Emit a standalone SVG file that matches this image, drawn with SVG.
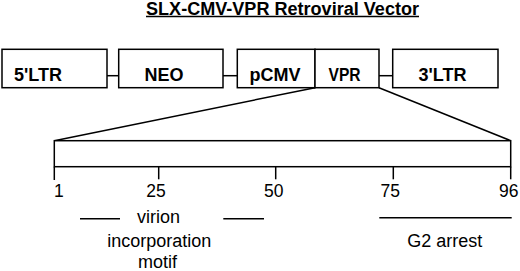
<svg xmlns="http://www.w3.org/2000/svg" width="520" height="271" viewBox="0 0 520 271">
<style>
  .box { fill: #fff; stroke: #000; stroke-width: 1.5; }
  .ln { stroke: #000; stroke-width: 1.5; fill: none; }
  .bl { font-family: "Liberation Sans", Arial, sans-serif; font-weight: bold; font-size: 18px; fill: #000; }
  .tk { font-family: "Liberation Sans", Arial, sans-serif; font-size: 17.5px; fill: #000; }
  .lb { font-family: "Liberation Sans", Arial, sans-serif; font-size: 18px; fill: #000; text-anchor: middle; }
</style>
<rect width="520" height="271" fill="#fff"/>
<g id="title">
  <text x="146" y="14.5" class="bl" font-size="16" textLength="273" lengthAdjust="spacingAndGlyphs">SLX-CMV-VPR Retroviral Vector</text>
  <line x1="146" y1="16.5" x2="419" y2="16.5" class="ln"/>
</g>
<g id="connectors">
  <line x1="107" y1="75.7" x2="118.7" y2="75.7" class="ln"/>
  <line x1="223" y1="75.7" x2="237.3" y2="75.7" class="ln"/>
  <line x1="379" y1="75.7" x2="392.7" y2="75.7" class="ln"/>
  <line x1="315" y1="87.7" x2="54.3" y2="140.7" class="ln"/>
  <line x1="379" y1="87.7" x2="510.7" y2="140.7" class="ln"/>
</g>
<g id="ltr5">
  <rect x="2" y="49.3" width="105" height="38.4" class="box"/>
  <text x="14" y="80.5" class="bl">5'LTR</text>
</g>
<g id="neo">
  <rect x="118.7" y="49.3" width="104.3" height="38.4" class="box"/>
  <text x="144.5" y="80.5" class="bl">NEO</text>
</g>
<g id="pcmv">
  <rect x="237.3" y="49.3" width="77.7" height="38.4" class="box"/>
  <text x="249.5" y="80.5" class="bl">pCMV</text>
</g>
<g id="vpr">
  <rect x="315" y="49.3" width="64" height="38.4" class="box"/>
  <text x="328.5" y="80.5" class="bl" textLength="32" lengthAdjust="spacingAndGlyphs">VPR</text>
</g>
<g id="ltr3">
  <rect x="392.7" y="49.3" width="105.3" height="38.4" class="box"/>
  <text x="418.5" y="80.5" class="bl">3'LTR</text>
</g>
<g id="vpr-map">
  <rect x="54.3" y="140.7" width="456.4" height="26" class="box"/>
  <line x1="54.3" y1="166.7" x2="54.3" y2="180" class="ln"/>
  <line x1="158.7" y1="166.7" x2="158.7" y2="179.3" class="ln"/>
  <line x1="275.7" y1="166.7" x2="275.7" y2="179.3" class="ln"/>
  <line x1="393.3" y1="166.7" x2="393.3" y2="179.3" class="ln"/>
  <line x1="510.7" y1="166.7" x2="510.7" y2="179.3" class="ln"/>
  <text x="54" y="197.3" class="tk">1</text>
  <text x="156" y="197.3" class="tk" text-anchor="middle">25</text>
  <text x="273.7" y="197.3" class="tk" text-anchor="middle">50</text>
  <text x="390.3" y="197.3" class="tk" text-anchor="middle">75</text>
  <text x="508.7" y="197.3" class="tk" text-anchor="middle">96</text>
</g>
<g id="virion-motif">
  <line x1="80" y1="218.7" x2="120" y2="218.7" class="ln"/>
  <line x1="223.3" y1="218.7" x2="264" y2="218.7" class="ln"/>
  <text x="158.5" y="223.3" class="lb">virion</text>
  <text x="159.2" y="246.7" class="lb">incorporation</text>
  <text x="157.5" y="268" class="lb">motif</text>
</g>
<g id="g2-arrest">
  <line x1="379.3" y1="217.7" x2="511.7" y2="217.7" class="ln"/>
  <text x="444.7" y="247.3" class="lb">G2 arrest</text>
</g>
</svg>
